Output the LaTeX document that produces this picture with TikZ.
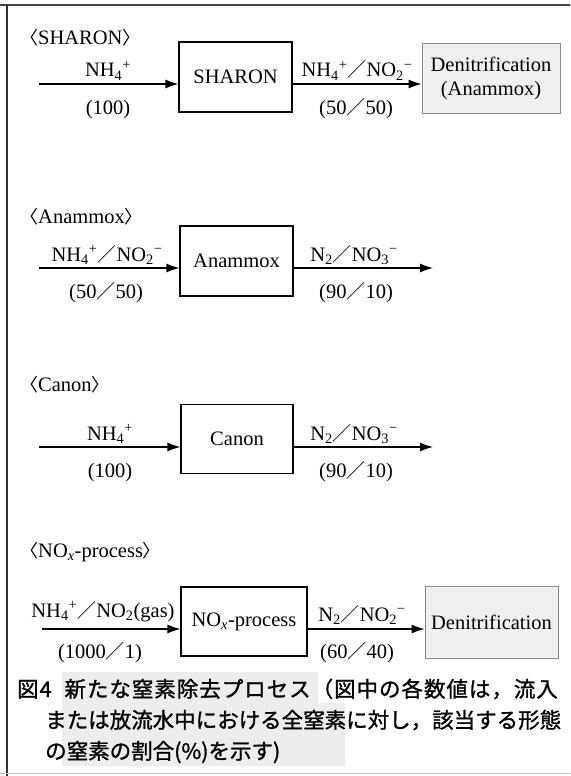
\documentclass[tikz,border=0pt]{standalone}
\usepackage{fontspec}
\setmainfont{Liberation Serif}
\newfontfamily\cjk{Noto Sans CJK JP}
\newfontfamily\cjkb[FakeBold=1.2]{Noto Sans CJK JP}
\newfontfamily\cjkbs[FakeBold=1.2,LetterSpace=4.5]{Noto Sans CJK JP}
\usetikzlibrary{arrows.meta}
\newcommand{\lbr}{{\cjk\fontsize{18}{20}\selectfont 〈}}
\newcommand{\rbr}{{\cjk\fontsize{18}{20}\selectfont 〉}}
\newcommand{\sla}{{\cjk\fontsize{19}{20}\selectfont ／}}
\newcommand{\nhf}{NH\textsubscript{4}\textsuperscript{+}}
\newcommand{\notw}{NO\textsubscript{2}\textsuperscript{−}}
\newcommand{\noth}{NO\textsubscript{3}\textsuperscript{−}}
\newcommand{\ntw}{N\textsubscript{2}}
\tikzset{
  pbox/.style={draw, line width=1.1pt, inner sep=0pt, font=\fontsize{20.5}{24}\selectfont},
  dbox/.style={draw=black!45, fill=black!6, line width=0.8pt, inner sep=0pt, align=center, font=\fontsize{20.5}{24}\selectfont},
  arr/.style={-{Latex[length=13pt,width=9pt]}, line width=1.2pt},
  lab/.style={inner sep=0pt, anchor=base, font=\fontsize{20.5}{24}\selectfont},
  ttl/.style={inner sep=0pt, anchor=west, font=\fontsize{20.5}{24}\selectfont},
  captext/.style={inner sep=0pt, anchor=base west, font=\cjkb\fontsize{21.5}{26}\selectfont}
}
\begin{document}
\begin{tikzpicture}[x=1pt,y=-1pt]
\useasboundingbox (0,0) rectangle (570,776);
% frame
\draw[line width=1.5pt, black!75] (0,5) -- (570,5);
\draw[line width=1.8pt, black!80] (7,5) -- (7,776);
\draw[line width=1pt, black!25] (0,773) -- (570,773);
% caption highlight
\fill[black!7] (62,672) -- (318,672) -- (318,703) -- (345,703) -- (345,766) -- (62,766) -- cycle;

% ===== SHARON =====
\node[ttl] (t1) at (20,38) {\lbr SHARON\rbr};
\node[pbox, minimum width=113pt, minimum height=70pt] (b1) at (235.5,77) {SHARON};
\node[dbox, minimum width=138pt, minimum height=70pt] (d1) at (491,78) {Denitrification\\(Anammox)};
\coordinate (i1) at (39,84);
\draw[arr] (i1) -- (i1 -| b1.west);
\draw[arr] (b1.east |- i1) -- (d1.west |- i1);
\node[lab] (l1a) at (108,77) {\nhf};
\node[lab] (l1b) at (108,114) {(100)};
\node[lab] (l1c) at (357,77) {\nhf\sla\notw};
\node[lab] (l1d) at (356,114) {(50\sla 50)};

% ===== Anammox =====
\node[ttl] (t2) at (20,217) {\lbr Anammox\rbr};
\node[pbox, minimum width=113pt, minimum height=70pt] (b2) at (236.5,261) {Anammox};
\coordinate (i2) at (39,268);
\coordinate (o2) at (433,268);
\draw[arr] (i2) -- (i2 -| b2.west);
\draw[arr] (b2.east |- i2) -- (o2);
\node[lab] (l2a) at (107,261) {\nhf\sla\notw};
\node[lab] (l2b) at (106,298) {(50\sla 50)};
\node[lab] (l2c) at (354,261) {\ntw\sla\noth};
\node[lab] (l2d) at (356,298) {(90\sla 10)};

% ===== Canon =====
\node[ttl] (t3) at (20,385) {\lbr Canon\rbr};
\node[pbox, minimum width=112pt, minimum height=69pt] (b3) at (237,439) {Canon};
\coordinate (i3) at (39,447);
\coordinate (o3) at (433,447);
\draw[arr] (i3) -- (i3 -| b3.west);
\draw[arr] (b3.east |- i3) -- (o3);
\node[lab] (l3a) at (110,440) {\nhf};
\node[lab] (l3b) at (110,477) {(100)};
\node[lab] (l3c) at (354,440) {\ntw\sla\noth};
\node[lab] (l3d) at (356,477) {(90\sla 10)};

% ===== NOx-process =====
\node[ttl] (t4) at (20,552) {\lbr NO\textsubscript{\textit{x}}-process\rbr};
\node[pbox, minimum width=126pt, minimum height=69pt] (b4) at (244,621.5) {NO\textsubscript{\textit{x}}-process};
\node[dbox, minimum width=133pt, minimum height=72pt] (d4) at (491.5,622) {Denitrification};
\coordinate (i4) at (42,629);
\draw[arr] (i4) -- (i4 -| b4.west);
\draw[arr] (b4.east |- i4) -- (d4.west |- i4);
\node[lab] (l4a) at (103,617) {\nhf\sla NO\textsubscript{2}(gas)};
\node[lab] (l4b) at (100,658) {(1000\sla 1)};
\node[lab] (l4c) at (362,621) {\ntw\sla\notw};
\node[lab] (l4d) at (357,658) {(60\sla 40)};

% ===== caption =====
\node[captext, font=\cjkbs\fontsize{21.5}{26}\selectfont] (c1) at (17,697) {図4\hspace{0.6em}新たな窒素除去プロセス（図中の各数値は，流入};
\node[captext] (c2) at (45,728) {または放流水中における全窒素に対し，該当する形態};
\node[captext] (c3) at (45,759) {の窒素の割合(\%)を示す)};
\end{tikzpicture}
\end{document}
